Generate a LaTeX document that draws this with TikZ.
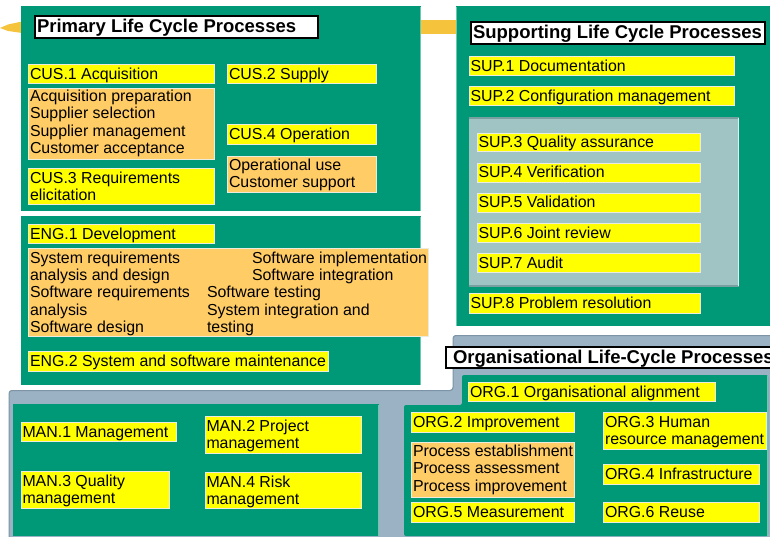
\documentclass[tikz,border=0pt]{standalone}
\usepackage{fontspec}
\setmainfont{Liberation Sans}
\definecolor{pgreen}{RGB}{0,153,119}
\definecolor{pgreenlt}{RGB}{110,200,170}
\definecolor{yel}{RGB}{255,255,0}
\definecolor{ora}{RGB}{255,204,102}
\definecolor{bord}{RGB}{235,235,222}
\definecolor{inpanel}{RGB}{160,196,196}
\definecolor{inpaneldk}{RGB}{120,160,160}
\definecolor{greyp}{RGB}{155,178,196}
\definecolor{greypdk}{RGB}{125,148,166}
\definecolor{brush}{RGB}{245,196,60}
\newcommand\pbox[6]{\node[#2, anchor=north west, minimum width={#5pt-#3pt}, minimum height={#6pt-#4pt}] (#1) at (#3,#4) {};}
\newcommand\ptext[5]{\node[#2, anchor=north west] (#1) at ([shift={(#4)}]#3.north west) {\rule{0pt}{12pt}#5};}
\begin{document}
\begin{tikzpicture}[x=1pt,y=-1pt,
  ybox/.style={fill=yel, draw=bord, line width=0.7pt, inner sep=0pt, outer sep=0pt},
  obox/.style={fill=ora, draw=bord, line width=0.7pt, inner sep=0pt, outer sep=0pt},
  tbox/.style={fill=white, draw=black, line width=1.3pt, inner sep=0pt, outer sep=0pt},
  txt/.style={inner sep=0pt, outer sep=0pt, align=left, font=\fontsize{15.9}{17.3}\selectfont},
  ttl/.style={inner sep=0pt, outer sep=0pt, align=left, font=\fontsize{18.5}{20}\selectfont\bfseries},
  panel/.style={fill=pgreen},
  edge/.style={draw=pgreenlt, line width=1pt}]
\useasboundingbox (0,0) rectangle (770,537);
\clip (0,0) rectangle (770,537);
\fill[white] (0,0) rectangle (770,537);
% brush stroke
\fill[brush] (0,28) -- (8,24.5) -- (22,21.5) -- (460,20) -- (460,34) -- (22,33) -- (8,31) -- cycle;
% primary
\fill[panel] (21,6) rectangle (421,211);
\draw[edge] (420.5,7) -- (420.5,211);
\fill[panel] (21,216) rectangle (421,385);
\draw[edge] (420.5,217) -- (420.5,385);
% supporting
\fill[panel] (456,6) rectangle (775,326);
\draw[edge] (456.5,7) -- (456.5,326);
% grey panel
\fill[greyp, rounded corners=3pt] (9,390) -- (453,390) -- (453,335) -- (780,335) -- (780,545) -- (9,545) -- cycle;
\draw[greypdk, line width=1pt, rounded corners=3pt] (9,545) -- (9,390.5) -- (453,390.5) -- (453,335.5) -- (780,335.5);
\fill[panel] (13,404) rectangle (379,536);
\draw[edge] (378.5,405) -- (378.5,536);
\fill[panel, rounded corners=2pt] (462,375) -- (768,375) -- (768,536) -- (404,536) -- (404,405) -- (462,405) -- cycle;
\draw[edge] (767.5,376) -- (767.5,536);

% ---- Primary Life Cycle Processes
\pbox{tp}{tbox}{35}{16}{318}{38}
\ptext{tpt}{ttl}{tp}{2,3.5}{Primary Life Cycle Processes}
\pbox{cus1}{ybox}{28}{64}{214}{83}
\ptext{cus1t}{txt}{cus1}{2,3.5}{CUS.1 Acquisition}
\pbox{cus2}{ybox}{227}{64}{376}{83}
\ptext{cus2t}{txt}{cus2}{2,3.5}{CUS.2 Supply}
\pbox{acq}{obox}{28}{88}{214}{159}
\ptext{acqt}{txt}{acq}{2,1.5}{Acquisition preparation\\Supplier selection\\Supplier management\\Customer acceptance}
\pbox{cus4}{ybox}{227}{124}{376}{144}
\ptext{cus4t}{txt}{cus4}{2,3.5}{CUS.4 Operation}
\pbox{op}{obox}{227}{156}{376}{192}
\ptext{opt}{txt}{op}{2,2.5}{Operational use\\Customer support}
\pbox{cus3}{ybox}{28}{168}{214}{204}
\ptext{cus3t}{txt}{cus3}{2,3.3}{CUS.3 Requirements\\elicitation}

% ---- Engineering
\pbox{eng1}{ybox}{28}{224}{214}{243}
\ptext{eng1t}{txt}{eng1}{2,3.3}{ENG.1 Development}
\pbox{dev}{obox}{28}{248}{428}{336}
\ptext{devl}{txt}{dev}{2,3.3}{System requirements\\analysis and design\\Software requirements\\analysis\\Software design}
\ptext{devr}{txt}{dev}{224,3.3}{Software implementation\\Software integration}
\ptext{devm}{txt}{dev}{179,37.9}{Software testing\\System integration and\\testing}
\pbox{eng2}{ybox}{28}{351}{328}{371}
\ptext{eng2t}{txt}{eng2}{2,3.5}{ENG.2 System and software maintenance}

% ---- Supporting
\pbox{ts}{tbox}{471}{22}{765}{44}
\ptext{tst}{ttl}{ts}{2,3.5}{Supporting Life Cycle Processes}
\pbox{sup1}{ybox}{469}{56}{734}{75}
\ptext{sup1t}{txt}{sup1}{1.5,3.5}{SUP.1 Documentation}
\pbox{sup2}{ybox}{469}{86}{734}{105}
\ptext{sup2t}{txt}{sup2}{1.5,3.5}{SUP.2 Configuration management}
\node[fill=inpanel, anchor=north west, minimum width=270pt, minimum height=168pt, inner sep=0pt, outer sep=0pt] (inner) at (469,118) {};
\draw[inpaneldk, line width=1.2pt] (inner.north west) -- (inner.north east);
\draw[inpaneldk, line width=1.2pt] (inner.south west) -- (inner.south east);
\draw[white!75!inpanel, line width=1.2pt] ([xshift=-0.6pt]inner.north east) -- ([xshift=-0.6pt]inner.south east);
\pbox{sup3}{ybox}{477}{133}{700}{151}
\ptext{sup3t}{txt}{sup3}{1.5,3}{SUP.3 Quality assurance}
\pbox{sup4}{ybox}{477}{163}{700}{182}
\ptext{sup4t}{txt}{sup4}{1.5,3}{SUP.4 Verification}
\pbox{sup5}{ybox}{477}{193}{700}{212}
\ptext{sup5t}{txt}{sup5}{1.5,3}{SUP.5 Validation}
\pbox{sup6}{ybox}{477}{223}{700}{242}
\ptext{sup6t}{txt}{sup6}{1.5,3}{SUP.6 Joint review}
\pbox{sup7}{ybox}{477}{253}{700}{272}
\ptext{sup7t}{txt}{sup7}{1.5,3}{SUP.7 Audit}
\pbox{sup8}{ybox}{469}{293}{700}{313}
\ptext{sup8t}{txt}{sup8}{1.5,3.5}{SUP.8 Problem resolution}

% ---- Management
\pbox{man1}{ybox}{21}{422}{176}{441}
\ptext{man1t}{txt}{man1}{1.5,3}{MAN.1 Management}
\pbox{man2}{ybox}{205}{416}{361}{453}
\ptext{man2t}{txt}{man2}{1.5,3}{MAN.2 Project\\management}
\pbox{man3}{ybox}{21}{471}{169}{508}
\ptext{man3t}{txt}{man3}{1.5,3}{MAN.3 Quality\\management}
\pbox{man4}{ybox}{205}{472}{361}{508}
\ptext{man4t}{txt}{man4}{1.5,3}{MAN.4 Risk\\management}

% ---- Organisational
\pbox{to}{tbox}{446}{347}{790}{368}
\ptext{tot}{ttl}{to}{7,3}{Organisational Life-Cycle Processes}
\pbox{org1}{ybox}{468}{382}{715}{401}
\ptext{org1t}{txt}{org1}{2,3}{ORG.1 Organisational alignment}
\pbox{org2}{ybox}{411}{412}{574}{432}
\ptext{org2t}{txt}{org2}{2,3.3}{ORG.2 Improvement}
\pbox{org3}{ybox}{603}{412}{766}{449}
\ptext{org3t}{txt}{org3}{2,3}{ORG.3 Human\\resource management}
\pbox{imp}{obox}{411}{442}{574}{497}
\ptext{impt}{txt}{imp}{2,2.5}{Process establishment\\Process assessment\\Process improvement}
\pbox{org4}{ybox}{603}{464}{759}{484}
\ptext{org4t}{txt}{org4}{2,3.3}{ORG.4 Infrastructure}
\pbox{org5}{ybox}{411}{502}{574}{522}
\ptext{org5t}{txt}{org5}{2,3.3}{ORG.5 Measurement}
\pbox{org6}{ybox}{603}{502}{759}{522}
\ptext{org6t}{txt}{org6}{2,3.3}{ORG.6 Reuse}
\end{tikzpicture}
\end{document}
